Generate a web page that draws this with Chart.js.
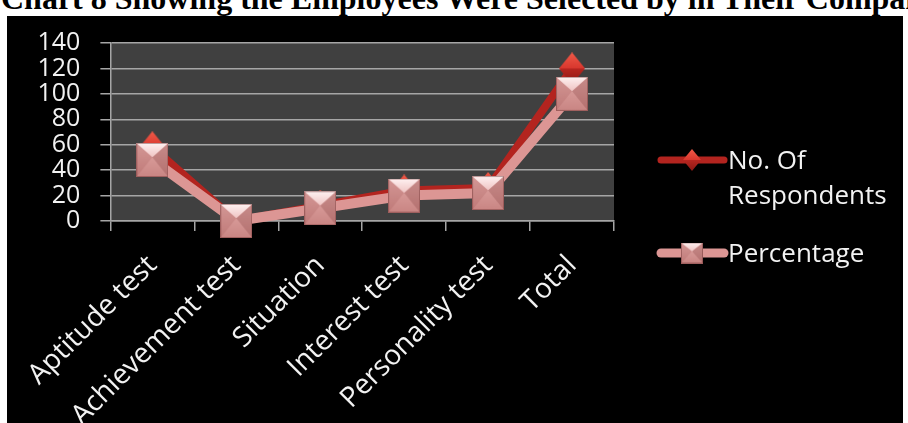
<!DOCTYPE html>
<html>
<head>
<meta charset="utf-8">
<script src="https://cdn.jsdelivr.net/npm/chart.js@4.4.1/dist/chart.umd.min.js"></script>
<style>
  html, body { margin: 0; padding: 0; background: #fff; overflow: hidden; }
  body { width: 908px; height: 423px; position: relative; }
  #title {
    position: absolute; left: 1px; top: -18px;
    font: bold 32px 'Liberation Serif', 'Times New Roman', serif;
    line-height: 1; white-space: nowrap; color: #000;
  }
  #box { position: absolute; left: 7px; top: 16px; width: 896px; height: 407px; background: #000; }
  #box canvas { display: block; }
</style>
</head>
<body>
<div id="title">Chart 8 Showing the Employees Were Selected by in Their Company</div>
<div id="box"><canvas id="chart" width="896" height="407"></canvas></div>
<script>
const categories = ['Aptitude test', 'Achievement test', 'Situation', 'Interest test', 'Personality test', 'Total'];
const respondents = [58, 0, 12, 24, 26, 120];
const percentage = [48, 0, 10, 20, 22, 100];
const seriesNames = ['No. Of Respondents', 'Percentage'];

const RESP_LINE = '#b3241f';
const PCT_LINE = '#dc9694';
const PLOT_BG = '#404040';
const GRID = '#a6a6a6';
const LABEL = '#f2f2f2';

// red diamond with a lit upper half
function diamondMarker(w, h) {
  const c = document.createElement('canvas');
  c.width = w; c.height = h;
  const g = c.getContext('2d');
  const top = g.createLinearGradient(0, 0, 0, h / 2);
  top.addColorStop(0, '#f05a48');
  top.addColorStop(1, '#d8372e');
  g.fillStyle = top;
  g.beginPath();
  g.moveTo(w / 2, 0); g.lineTo(w, h / 2); g.lineTo(0, h / 2); g.closePath();
  g.fill();
  const bot = g.createLinearGradient(0, h / 2, 0, h);
  bot.addColorStop(0, '#b82620');
  bot.addColorStop(1, '#8a1814');
  g.fillStyle = bot;
  g.beginPath();
  g.moveTo(0, h / 2); g.lineTo(w, h / 2); g.lineTo(w / 2, h); g.closePath();
  g.fill();
  return c;
}

// pink bevelled square, light flap on top
function squareMarker(w, h) {
  const c = document.createElement('canvas');
  c.width = w; c.height = h;
  const g = c.getContext('2d');
  const base = g.createLinearGradient(0, 0, 0, h);
  base.addColorStop(0, '#e2a9a7');
  base.addColorStop(1, '#c98583');
  g.fillStyle = base;
  g.fillRect(0, 0, w, h);
  const mid = h * 0.42;
  g.fillStyle = 'rgba(150,70,70,0.18)';
  g.beginPath(); g.moveTo(0, 0); g.lineTo(w / 2, mid); g.lineTo(0, h); g.closePath(); g.fill();
  g.fillStyle = 'rgba(120,50,50,0.25)';
  g.beginPath(); g.moveTo(w, 0); g.lineTo(w / 2, mid); g.lineTo(w, h); g.closePath(); g.fill();
  const flap = g.createLinearGradient(0, 0, 0, mid);
  flap.addColorStop(0, '#fff2f2');
  flap.addColorStop(1, '#efc4c3');
  g.fillStyle = flap;
  g.beginPath(); g.moveTo(0, 0); g.lineTo(w, 0); g.lineTo(w / 2, mid); g.closePath(); g.fill();
  g.strokeStyle = 'rgba(110,50,50,0.45)';
  g.lineWidth = 1;
  g.strokeRect(0.5, 0.5, w - 1, h - 1);
  return c;
}

const diamond = diamondMarker(26, 32);
const square = squareMarker(32, 34);
const diamondSmall = diamondMarker(18, 22);
const squareSmall = squareMarker(22, 21);

const plotBackground = {
  id: 'plotBackground',
  beforeDraw(chart) {
    const { ctx, chartArea: a } = chart;
    ctx.save();
    ctx.fillStyle = PLOT_BG;
    ctx.fillRect(a.left, a.top, a.width, a.height);
    ctx.restore();
  }
};

// legend on the right: line sample with marker, wrapped label
const sideLegend = {
  id: 'sideLegend',
  afterDraw(chart) {
    const ctx = chart.ctx;
    const items = [
      { lines: ['No. Of', 'Respondents'], y: 144, color: RESP_LINE, width: 7, marker: diamondSmall },
      { lines: [seriesNames[1]], y: 237, color: PCT_LINE, width: 9, marker: squareSmall }
    ];
    ctx.save();
    ctx.lineCap = 'round';
    items.forEach(it => {
      ctx.strokeStyle = it.color;
      ctx.lineWidth = it.width;
      ctx.beginPath();
      ctx.moveTo(654, it.y);
      ctx.lineTo(717, it.y);
      ctx.stroke();
      ctx.drawImage(it.marker, 685 - it.marker.width / 2, it.y - it.marker.height / 2);
      ctx.fillStyle = LABEL;
      ctx.font = '26px "Open Sans"';
      ctx.textBaseline = 'alphabetic';
      it.lines.forEach((t, i) => ctx.fillText(t, 721, it.y + 9 + i * 35));
    });
    ctx.restore();
  }
};

new Chart(document.getElementById('chart'), {
  type: 'line',
  data: {
    labels: categories,
    datasets: [
      {
        label: seriesNames[0],
        data: respondents,
        borderColor: RESP_LINE,
        borderWidth: 8,
        borderJoinStyle: 'round',
        pointStyle: diamond,
        pointRadius: 14,
        tension: 0,
        clip: false,
        order: 1
      },
      {
        label: seriesNames[1],
        data: percentage,
        borderColor: PCT_LINE,
        borderWidth: 10,
        borderJoinStyle: 'round',
        pointStyle: square,
        pointRadius: 16,
        tension: 0,
        clip: false,
        order: 0
      }
    ]
  },
  options: {
    responsive: false,
    animation: false,
    devicePixelRatio: 1,
    layout: { padding: { left: 27, right: 289, top: 27, bottom: 0 } },
    plugins: { legend: { display: false }, tooltip: { enabled: false } },
    scales: {
      x: {
        offset: true,
        grid: { offset: true, drawOnChartArea: false, tickLength: 10, color: GRID, lineWidth: 1.5 },
        border: { color: GRID, width: 1.5 },
        ticks: {
          color: LABEL, font: { family: 'Open Sans', size: 28 },
          minRotation: 45, maxRotation: 45, autoSkip: false, padding: 18
        },
        afterFit(s) { s.height = 202; }
      },
      y: {
        min: 0, max: 140,
        grid: { color: GRID, lineWidth: 1.5, tickLength: 10 },
        border: { color: GRID, width: 1.5 },
        ticks: {
          stepSize: 20, autoSkip: false, color: LABEL,
          font: { family: 'Open Sans', size: 25, lineHeight: 1 }, padding: 20
        },
        afterFit(s) { s.width = 74; s.paddingTop = 0; s.paddingBottom = 0; }
      }
    }
  },
  plugins: [plotBackground, sideLegend]
});
</script>
</body>
</html>
